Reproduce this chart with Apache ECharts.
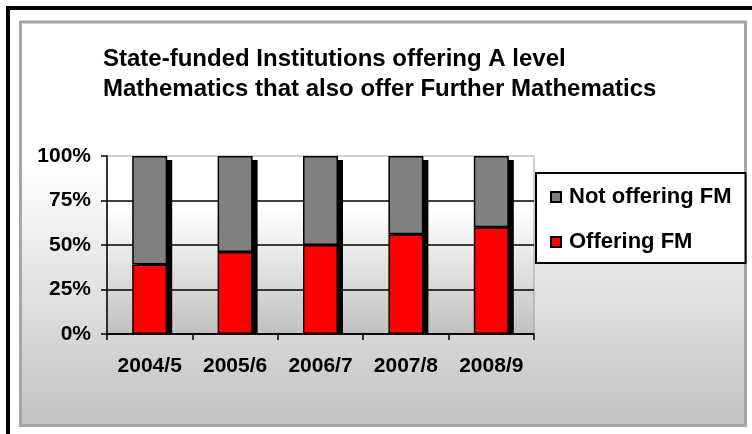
<!DOCTYPE html>
<html>
<head>
<meta charset="utf-8">
<script src="https://cdn.jsdelivr.net/npm/echarts@6/dist/echarts.min.js"></script>
<style>
  body { margin: 0; background: #fff; }
  #main { width: 752px; height: 434px; }
</style>
</head>
<body>
<div id="main"></div>
<script>
// values (percent of institutions)
const years = ["2004/5", "2005/6", "2006/7", "2007/8", "2008/9"];
const offering = [39, 46, 50, 56, 60];
const notOffering = [61, 54, 50, 44, 40];

// full stack height, used for the drop shadow behind each bar
const totals = offering.map((v, i) => v + notOffering[i]);

const font = "'Liberation Sans', Arial, sans-serif";

const myChart = echarts.init(document.getElementById("main"));
const option = {
  backgroundColor: "#fff",
  animation: false,
  // chart frame: black outer border + grey panel with white-to-grey fill
  graphic: [
    {
      type: "rect",
      z: -10,
      shape: { x: 8, y: 8, width: 800, height: 500 },
      style: { fill: "#fff", stroke: "#000", lineWidth: 4 },
    },
    {
      type: "rect",
      z: -9,
      shape: { x: 20.5, y: 22, width: 725, height: 403.5 },
      style: {
        fill: new echarts.graphic.LinearGradient(0, 0, 0, 1, [
          { offset: 0, color: "#ffffff" },
          { offset: 0.35, color: "#ffffff" },
          { offset: 1, color: "#c2c2c2" },
        ]),
        stroke: "#a6a6a6",
        lineWidth: 3,
      },
    },
  ],
  title: {
    text: "State-funded Institutions offering A level\nMathematics that also offer Further Mathematics",
    left: 103,
    top: 44,
    padding: 0,
    textStyle: {
      fontFamily: font,
      fontSize: 24,
      fontWeight: "bold",
      color: "#000",
      lineHeight: 30,
    },
  },
  legend: {
    orient: "vertical",
    left: 536,
    top: 173,
    padding: [13, 14, 10, 14],
    itemGap: 23,
    itemWidth: 10,
    itemHeight: 10,
    icon: "rect",
    backgroundColor: "#fff",
    borderColor: "#000",
    borderWidth: 2,
    data: ["Not offering FM", "Offering FM"],
    textStyle: {
      fontFamily: font,
      fontSize: 22,
      fontWeight: "bold",
      color: "#000",
      padding: [0, 0, 0, 3],
    },
  },
  grid: [
    {
      left: 107,
      top: 156,
      right: 218,
      bottom: 100,
      outerBoundsMode: "none",
      show: true,
      backgroundColor: new echarts.graphic.LinearGradient(0, 0, 0, 1, [
        { offset: 0, color: "#ffffff" },
        { offset: 0.3, color: "#ffffff" },
        { offset: 1, color: "#c0c0c0" },
      ]),
      borderColor: "#a0a0a0",
      borderWidth: 1,
    },
    // same grid moved 5px right and 4px down, only for the shadows
    {
      left: 112,
      top: 160,
      right: 213,
      bottom: 100,
      outerBoundsMode: "none",
    },
  ],
  xAxis: [
    {
      type: "category",
      data: years,
      axisLine: { lineStyle: { color: "#000", width: 1.5 } },
      axisTick: { show: true, length: 6, lineStyle: { color: "#000", width: 1.5 } },
      axisLabel: {
        margin: 22,
        fontFamily: font,
        fontSize: 21,
        fontWeight: "bold",
        color: "#000",
      },
    },
    { type: "category", gridIndex: 1, data: years, show: false },
  ],
  yAxis: [
    {
      type: "value",
      min: 0,
      max: 100,
      interval: 25,
      axisLine: { show: true, lineStyle: { color: "#000", width: 1.5 } },
      axisTick: { show: true, length: 6, lineStyle: { color: "#000", width: 1.5 } },
      axisLabel: {
        formatter: "{value}%",
        margin: 16,
        fontFamily: font,
        fontSize: 21,
        fontWeight: "bold",
        color: "#000",
      },
      splitLine: {
        show: true,
        showMaxLine: false,
        lineStyle: { color: "#000", width: 1.5 },
      },
    },
    { type: "value", gridIndex: 1, min: 0, max: 100, show: false },
  ],
  series: [
    {
      name: "shadow",
      type: "bar",
      xAxisIndex: 1,
      yAxisIndex: 1,
      barWidth: 35,
      z: 1,
      silent: true,
      itemStyle: { color: "#000" },
      data: totals,
    },
    {
      name: "Offering FM",
      type: "bar",
      stack: "fm",
      barWidth: 35,
      itemStyle: { color: "#ff0000", borderColor: "#000", borderWidth: 1.5 },
      data: offering,
    },
    {
      name: "Not offering FM",
      type: "bar",
      stack: "fm",
      barWidth: 35,
      itemStyle: { color: "#808080", borderColor: "#000", borderWidth: 1.5 },
      data: notOffering,
    },
  ],
};
myChart.setOption(option);
</script>
</body>
</html>
